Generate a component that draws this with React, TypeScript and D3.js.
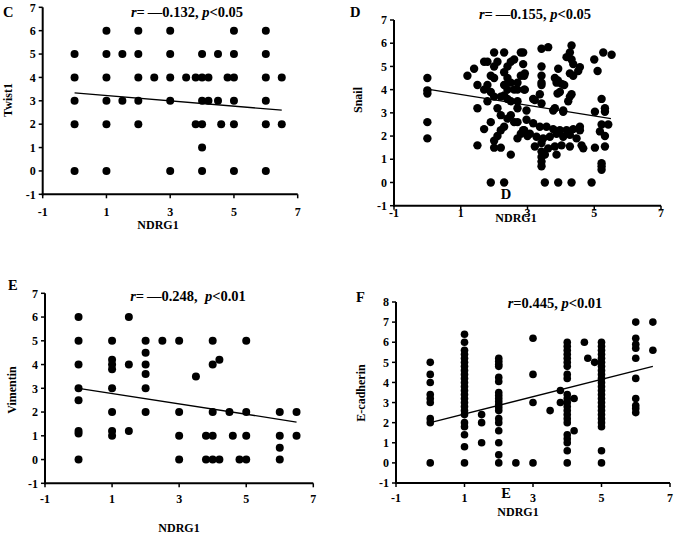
import React from "react";
import * as d3 from "d3";

// ---------- DATA ----------
const xTickValues = [-1, 1, 3, 5, 7];
const yTicksA = [-1, 0, 1, 2, 3, 4, 5, 6, 7];
const yTicksF = [-1, 0, 1, 2, 3, 4, 5, 6, 7, 8];

const twistPoints: [number, number][] = [
  [0, 5], [0, 4], [0, 3], [0, 2], [0, 0],
  [1, 6], [1, 5], [1, 4], [1, 3], [1, 2], [1, 0],
  [1.5, 5], [1.5, 3],
  [2, 6], [2, 5], [2, 4], [2, 3], [2, 2],
  [2.5, 4],
  [3, 6], [3, 5], [3, 4], [3, 3], [3, 0],
  [3.5, 4], [3.8, 4], [3.8, 2],
  [4, 5], [4, 4], [4, 3], [4, 2], [4, 1], [4, 0],
  [4.2, 4], [4.2, 3], [4.5, 5], [4.5, 3], [4.6, 2], [4.8, 4],
  [5, 6], [5, 5], [5, 4], [5, 3], [5, 2], [5, 0],
  [6, 6], [6, 5], [6, 4], [6, 3], [6, 2], [6, 0],
  [6.5, 4], [6.5, 2],
];
const twistTrend: [number, number][] = [[0, 3.34], [6.5, 2.6]];

const snailPoints: [number, number][] = [
  [0, 4.5], [0, 3.97], [0, 3.83], [0, 2.6], [0, 1.9],
  [1.2, 4.6], [1.4, 4.9], [1.5, 4.2], [1.5, 3.2], [1.5, 1.6], [1.7, 2.3],
  [1.7, 5.2], [1.8, 5.2], [1.9, 2.6], [2.0, 5.6], [2.3, 5.6], [2.8, 5.6],
  [2.0, 5.0], [2.1, 5.2], [1.9, 4.6], [2.0, 4.5], [1.8, 4.2], [1.7, 4.0],
  [1.9, 3.9], [1.8, 3.5], [2.0, 3.7], [2.1, 3.2], [2.2, 2.9], [2.0, 1.8],
  [2.0, 1.5], [2.2, 1.5], [2.5, 1.2], [2.3, 4.75], [2.4, 5.0], [2.5, 5.2],
  [2.6, 5.3], [2.4, 4.5], [2.5, 4.3], [2.7, 4.3], [2.8, 4.6], [2.9, 4.6],
  [2.3, 4.2], [2.4, 4.0], [2.6, 4.0], [2.7, 4.0], [2.9, 4.0], [2.2, 3.7],
  [2.4, 3.6], [2.5, 3.5], [2.7, 3.5], [2.3, 3.75], [2.7, 3.2], [2.4, 2.75],
  [2.5, 2.9], [2.6, 2.6], [2.7, 2.6], [2.1, 2.0], [2.2, 2.25], [2.3, 2.4],
  [2.7, 1.9], [2.8, 2.1], [2.9, 2.25], [3.0, 2.0], [1.9, 0], [2.3, 0],
  [3.42, 5.76], [3.62, 5.83], [4.32, 5.9], [4.27, 5.6], [4.17, 5.4],
  [4.32, 5.3], [4.37, 5.1], [4.57, 4.97], [4.52, 4.8], [4.27, 4.7],
  [4.37, 4.6], [5.0, 5.3], [5.27, 5.6], [5.52, 5.5], [5.1, 4.8],
  [3.42, 5.0], [3.42, 4.6], [3.42, 4.3], [3.42, 4.2], [3.82, 4.5],
  [3.87, 4.3], [4.02, 4.25], [3.92, 4.9], [3.37, 3.8], [2.92, 4.0],
  [2.92, 4.7], [2.87, 5.1], [2.87, 5.6], [3.17, 3.6], [3.42, 3.4],
  [3.22, 3.55], [3.82, 3.2], [4.07, 3.05], [4.27, 3.7], [4.32, 3.8],
  [4.22, 3.5], [3.97, 3.9], [5.22, 3.6], [5.32, 3.2], [5.32, 3.05],
  [5.02, 3.05], [5.22, 2.5], [5.42, 2.5], [5.17, 2.2], [5.32, 2.0],
  [5.32, 1.55], [5.02, 1.5], [5.22, 0.83], [5.22, 0.7], [5.22, 0.55],
  [3.52, 0], [3.92, 0], [4.32, 0], [4.92, 0],
  [2.97, 2.7], [3.17, 2.55], [3.37, 2.4], [3.57, 2.4], [3.77, 2.3],
  [3.97, 2.25], [4.17, 2.25], [4.37, 2.3], [4.57, 2.25], [4.57, 2.4],
  [2.87, 2.25], [3.07, 2.1], [3.27, 1.97], [3.47, 1.9], [3.67, 1.97],
  [3.87, 2.1], [4.07, 1.97], [4.27, 2.05], [4.47, 1.9], [3.22, 1.55],
  [3.42, 1.7], [3.62, 1.47], [3.82, 1.55], [4.02, 1.6], [4.27, 1.55],
  [4.62, 1.6], [4.67, 1.47], [3.42, 1.33], [3.42, 1.1], [3.42, 0.9],
  [3.42, 0.7], [3.87, 1.2], [3.52, 1.2], [2.97, 3.1], [3.77, 3.1],
  [4.07, 3.1], [3.91, 4.4], [3.9, 3.83], [4.1, 4.2],
];
const snailTrend: [number, number][] = [[0, 4.02], [5.5, 2.75]];

const vimentinPoints: [number, number][] = [
  [0, 6], [0, 5], [0, 4], [0, 3], [0, 2.5], [0, 1.2], [0, 1.1], [0, 0],
  [1, 5], [1, 4.2], [1, 4.0], [1, 3.8], [1, 3], [1, 2], [1, 1.2], [1, 1.0],
  [1.5, 6], [1.5, 4], [1.5, 1.2],
  [2, 5], [2, 4.5], [2, 4], [2, 3.6], [2, 3], [2, 2],
  [2.5, 5],
  [3, 5], [3, 2], [3, 1], [3, 0],
  [3.5, 3.5], [3.8, 1], [3.8, 0],
  [4, 5], [4, 4], [4, 2], [4, 1], [4, 0],
  [4.2, 4.2], [4.2, 0], [4.5, 2], [4.6, 1], [4.8, 0],
  [5, 5], [5, 2], [5, 1], [5, 0],
  [6, 2], [6, 1], [6, 0.5], [6, 0],
  [6.5, 2], [6.5, 1],
];
const vimentinTrend: [number, number][] = [[0, 3.0], [6.5, 1.58]];

const ecadX0 = [5.0, 4.4, 4.0, 3.4, 3.2, 3.0, 2.2, 2.0, 0];
const ecadX1 = [6.4, 6.0, 5.6, 5.4, 5.2, 5.0, 4.8, 4.6, 4.4, 4.2, 4.0, 3.8, 3.6, 3.4, 3.2, 3.0, 2.8, 2.6, 2.4, 2.0, 1.8, 1.4, 0.8, 0];
const ecadX2 = [5.2, 5.05, 4.9, 4.8, 4.25, 4.05, 3.5, 3.35, 3.2, 3.05, 2.9, 2.75, 2.6, 2.2, 2.0, 1.6, 1.0, 0.4, 0];
const ecadX4 = [6.0, 5.8, 5.6, 5.4, 5.2, 5.0, 4.8, 4.4, 4.2, 3.4, 3.2, 3.0, 2.8, 2.6, 2.4, 2.2, 2.0, 1.4, 1.2, 1.0, 0.6, 0];
const ecadX5 = [6.0, 5.8, 5.6, 5.4, 5.2, 5.0, 4.8, 4.6, 4.4, 4.2, 4.0, 3.8, 3.6, 3.4, 3.2, 3.0, 2.8, 2.6, 2.4, 2.2, 2.0, 1.8, 0.6, 0];
const ecadX6 = [7.0, 6.2, 5.9, 5.7, 5.2, 4.2, 3.2, 2.85, 2.7, 2.5];
const ecadOther: [number, number][] = [
  [1.5, 2.4], [1.5, 2.0], [1.5, 1.0], [2.5, 0],
  [3, 6.2], [3, 4.4], [3, 3.0], [3, 0],
  [3.5, 2.6], [3.8, 3.6], [3.8, 3.0], [4.2, 3.2], [4.2, 1.6],
  [4.5, 6.0], [4.6, 5.2], [4.8, 5.0], [6.5, 7.0], [6.5, 5.6],
];
const ecadTrend: [number, number][] = [[0, 2.0], [6.5, 4.8]];

const ecadPoints: [number, number][] = [
  ...ecadX0.map((y) => [0, y] as [number, number]),
  ...ecadX1.map((y) => [1, y] as [number, number]),
  ...ecadX2.map((y) => [2, y] as [number, number]),
  ...ecadX4.map((y) => [4, y] as [number, number]),
  ...ecadX5.map((y) => [5, y] as [number, number]),
  ...ecadX6.map((y) => [6, y] as [number, number]),
  ...ecadOther,
];

// ---------- LAYOUT ----------
const FONT = "'Liberation Serif', 'DejaVu Serif', serif";

type PanelProps = {
  points: [number, number][];
  trend: [number, number][];
  xPx: [number, number];
  yPx: [number, number];
  yDomain: [number, number];
  yTicks: number[];
  letter: string;
  letterPos: [number, number];
  rText: string;
  pText: string;
  titlePos: [number, number];
  ylabel: string;
  ylabelPos: [number, number];
  xlabelPos: [number, number];
  tickLabelY: number;
  radius: number;
};

function Panel(p: PanelProps) {
  const x = d3.scaleLinear().domain([-1, 7]).range(p.xPx);
  const y = d3.scaleLinear().domain(p.yDomain).range(p.yPx);
  const line = d3
    .line<[number, number]>()
    .x((d) => x(d[0]))
    .y((d) => y(d[1]));
  const x0 = p.xPx[0];
  const y0 = p.yPx[0];
  return (
    <g>
      {p.points.map((d, i) => (
        <circle key={i} cx={x(d[0])} cy={y(d[1])} r={p.radius} fill="#000" />
      ))}
      <path d={line(p.trend) || ""} stroke="#000" strokeWidth={1.3} fill="none" />
      <line x1={x0} x2={x0} y1={p.yPx[1]} y2={y0 + 1} stroke="#000" strokeWidth={2} />
      <line x1={x0 - 1} x2={p.xPx[1]} y1={y0} y2={y0} stroke="#000" strokeWidth={2} />
      {p.yTicks.map((t) => (
        <g key={"y" + t}>
          <line x1={x0 - 4} x2={x0} y1={y(t)} y2={y(t)} stroke="#000" strokeWidth={1.5} />
          <text x={x0 - 7} y={y(t)} dy="0.35em" textAnchor="end" fontSize={12} fontWeight="bold" fontFamily={FONT}>
            {t}
          </text>
        </g>
      ))}
      {xTickValues.map((t) => (
        <g key={"x" + t}>
          <line x1={x(t)} x2={x(t)} y1={y0} y2={y0 + 4} stroke="#000" strokeWidth={1.5} />
          <text x={x(t)} y={p.tickLabelY} textAnchor="middle" fontSize={12} fontWeight="bold" fontFamily={FONT}>
            {t}
          </text>
        </g>
      ))}
      <text x={p.letterPos[0]} y={p.letterPos[1]} fontSize={14.5} fontWeight="bold" fontFamily={FONT}>
        {p.letter}
      </text>
      <text x={p.titlePos[0]} y={p.titlePos[1]} textAnchor="middle" fontSize={14.5} fontWeight="bold" fontFamily={FONT}>
        <tspan fontStyle="italic">r</tspan>
        {p.rText}
        <tspan fontStyle="italic">p</tspan>
        {p.pText}
      </text>
      <text
        transform={`translate(${p.ylabelPos[0]},${p.ylabelPos[1]}) rotate(-90)`}
        textAnchor="middle"
        fontSize={12}
        fontWeight="bold"
        fontFamily={FONT}
      >
        {p.ylabel}
      </text>
      <text x={p.xlabelPos[0]} y={p.xlabelPos[1]} textAnchor="middle" fontSize={12} fontWeight="bold" fontFamily={FONT}>
        NDRG1
      </text>
    </g>
  );
}

export default function App() {
  return (
    <svg
      width={677}
      height={537}
      viewBox="0 0 677 537"
      style={{ position: "absolute", left: 0, top: 0, background: "#fff" }}
    >
      <rect width={677} height={537} fill="#fff" />
      <Panel
        points={twistPoints}
        trend={twistTrend}
        xPx={[42.7, 297.7]}
        yPx={[194.3, 7.3]}
        yDomain={[-1, 7]}
        yTicks={yTicksA}
        letter="C"
        letterPos={[3, 17]}
        rText={"=\u2009\u20140.132, "}
        pText="<0.05"
        titlePos={[187, 17]}
        ylabel="Twist1"
        ylabelPos={[12, 100]}
        xlabelPos={[158, 229]}
        tickLabelY={216}
        radius={4}
      />
      <Panel
        points={snailPoints}
        trend={snailTrend}
        xPx={[394, 661]}
        yPx={[205.7, 20]}
        yDomain={[-1, 7]}
        yTicks={yTicksA}
        letter="D"
        letterPos={[350, 17]}
        rText={"=\u2009\u20140.155, "}
        pText="<0.05"
        titlePos={[535, 19]}
        ylabel="Snail"
        ylabelPos={[362, 100]}
        xlabelPos={[516, 222]}
        tickLabelY={217}
        radius={4.2}
      />
      <Panel
        points={vimentinPoints}
        trend={vimentinTrend}
        xPx={[45, 313.3]}
        yPx={[483.3, 293.3]}
        yDomain={[-1, 7]}
        yTicks={yTicksA}
        letter="E"
        letterPos={[8, 290]}
        rText={"=\u2009\u20140.248,\u00A0\u00A0"}
        pText="<0.01"
        titlePos={[188, 301]}
        ylabel="Vimentin"
        ylabelPos={[16, 390]}
        xlabelPos={[179, 532]}
        tickLabelY={503}
        radius={4}
      />
      <Panel
        points={ecadPoints}
        trend={ecadTrend}
        xPx={[396, 670]}
        yPx={[483, 302]}
        yDomain={[-1, 8]}
        yTicks={yTicksF}
        letter="F"
        letterPos={[356, 302]}
        rText="=0.445, "
        pText="<0.01"
        titlePos={[555, 308]}
        ylabel="E-cadherin"
        ylabelPos={[365, 393]}
        xlabelPos={[518, 516]}
        tickLabelY={502}
        radius={3.8}
      />
      <text x={506} y={199} textAnchor="middle" fontSize={14.5} fontWeight="bold" fontFamily={FONT}>
        D
      </text>
      <text x={506} y={498} textAnchor="middle" fontSize={14.5} fontWeight="bold" fontFamily={FONT}>
        E
      </text>
    </svg>
  );
}
